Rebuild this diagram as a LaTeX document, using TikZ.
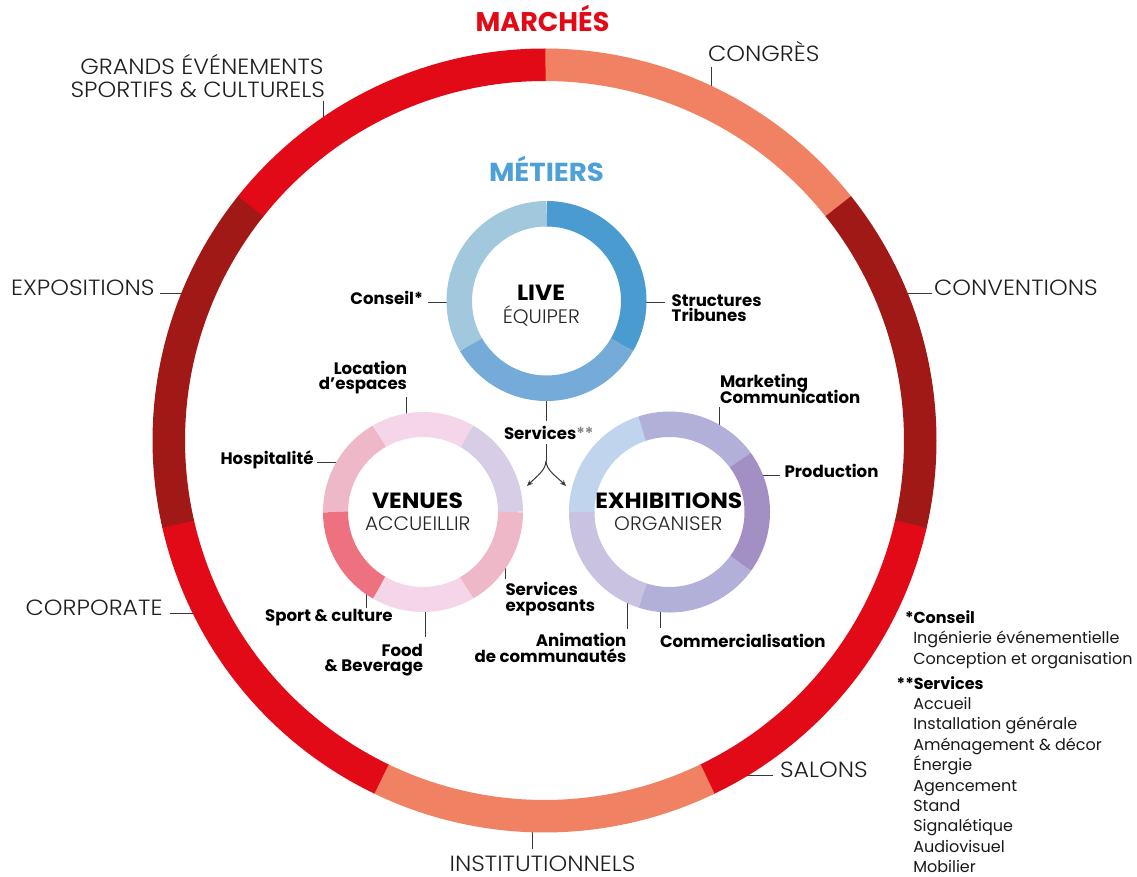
\documentclass[tikz,border=0pt]{standalone}
\usepackage{fontspec}
\setmainfont{Poppins}
\IfFontExistsTF{Poppins Light}{%
  \newfontfamily\lightf{Poppins Light}[FakeStretch=1.08]%
  \newfontfamily\lightg{Poppins Light}[FakeStretch=1.03]%
  \newfontfamily\lighth{Poppins Light}}{%
  \newfontfamily\lightf{Poppins}[FakeStretch=1.08]%
  \newfontfamily\lightg{Poppins}[FakeStretch=1.03]%
  \newfontfamily\lighth{Poppins}}
\newfontfamily\titlef{Poppins}[FakeStretch=1.065]
\usetikzlibrary{arrows.meta}
\definecolor{mred}{HTML}{E30A17}
\definecolor{msalmon}{HTML}{F08263}
\definecolor{mdark}{HTML}{A01916}
\definecolor{mblue}{HTML}{4DA0D8}
\definecolor{lblueA}{HTML}{4A9BCF}
\definecolor{lblueB}{HTML}{74ABD8}
\definecolor{lblueC}{HTML}{A1C8DD}
\definecolor{vlav}{HTML}{D7CDE7}
\definecolor{vlpink}{HTML}{F5D6E8}
\definecolor{vpink}{HTML}{EEB8C9}
\definecolor{vcoral}{HTML}{EE717F}
\definecolor{elblue}{HTML}{C0D4EE}
\definecolor{epurple}{HTML}{B2B0D8}
\definecolor{eprod}{HTML}{A28FC4}
\definecolor{eanim}{HTML}{CAC2E1}
\newcommand\ringseg[6]{\draw[line width=#3pt,#6] (#1) ++(#4:#2pt) arc[start angle=#4,end angle=#5,radius=#2pt];}
\begin{document}
\begin{tikzpicture}[x=1pt,y=-1pt,
  every node/.style={inner sep=0pt,outer sep=0pt},
  biglab/.style={font=\lightf\fontsize{22}{26}\selectfont,text=black!88},
  head/.style={font=\titlef\bfseries\fontsize{22}{26}\selectfont,text=black},
  subh/.style={font=\lightg\fontsize{19.5}{22}\selectfont,text=black!85},
  lab/.style={font=\bfseries\fontsize{16.6}{18}\selectfont,text=black},
  note/.style={font=\fontsize{16}{20}\selectfont,text=black!90},
  notehead/.style={font=\bfseries\fontsize{16}{20}\selectfont,text=black},
  lead/.style={draw=black!78,line width=1pt},
  tip/.style={-{Stealth[length=6pt,width=5pt]}}]
\fill[white] (0,0) rectangle (1137,877);
\useasboundingbox (0,0) rectangle (1137,877);
% centres
\coordinate (big) at (544.5,440.5);
\coordinate (livec) at (546.5,301);
\coordinate (venc) at (423,512);
\coordinate (exhc) at (669.5,512);
% leaders (drawn under the rings)
\coordinate (gA) at (323,101); \coordinate (gB) at (323,122);
\coordinate (cgA) at (711,67); \coordinate (cgB) at (711,90);
\coordinate (cvA) at (932,293); \coordinate (cvB) at (903,293);
\coordinate (saA) at (773,775); \coordinate (saB) at (742,775);
\coordinate (inA) at (532,849); \coordinate (inB) at (532,826);
\coordinate (coA) at (170,613); \coordinate (coB) at (197,613);
\coordinate (exA) at (160,293); \coordinate (exB) at (186,293);
\foreach \p/\q in {gA/gB,cgA/cgB,cvA/cvB,saA/saB,inA/inB,coA/coB,exA/exB} \draw[lead] (\p) -- (\q);
\coordinate (csA) at (428,302.7); \coordinate (csB) at (450,302.7);
\coordinate (stA) at (643,302.7); \coordinate (stB) at (665,302.7);
\coordinate (svA) at (546,396); \coordinate (svB) at (546,421);
\coordinate (loA) at (406.5,397); \coordinate (loB) at (406.5,417);
\coordinate (hoA) at (317,462.7); \coordinate (hoB) at (340,462.7);
\coordinate (spA) at (366.5,590); \coordinate (spB) at (366.5,608);
\coordinate (foA) at (425.5,608); \coordinate (foB) at (425.5,637);
\coordinate (seA) at (505.5,564); \coordinate (seB) at (505.5,579);
\coordinate (maA) at (719,407); \coordinate (maB) at (719,429);
\coordinate (prA) at (758,475.7); \coordinate (prB) at (780,475.7);
\coordinate (cmA) at (660,607); \coordinate (cmB) at (660,628);
\coordinate (anA) at (627,598); \coordinate (anB) at (627,629);
\foreach \p/\q in {csA/csB,stA/stB,svA/svB,loA/loB,hoA/hoB,spA/spB,foA/foB,seA/seB,maA/maB,prA/prB,cmA/cmB,anA/anB} \draw[lead] (\p) -- (\q);
% big ring
\foreach \i/\c in {0/msalmon,1/mdark,2/mred,3/msalmon,4/mred,5/mdark,6/mred}{
  \pgfmathsetmacro\sa{90-\i*360/7}
  \pgfmathsetmacro\ea{90-(\i+1)*360/7-0.15}
  \ringseg{big}{375.75}{32.5}{\sa}{\ea}{\c}
}
% LIVE
\ringseg{livec}{87.25}{25.5}{90}{-30.2}{lblueA}
\ringseg{livec}{87.25}{25.5}{-30}{-150.2}{lblueB}
\ringseg{livec}{87.25}{25.5}{-150}{-270}{lblueC}
% VENUES
\ringseg{venc}{87.5}{25}{0}{60.2}{vlav}
\ringseg{venc}{87.5}{25}{60}{120.2}{vlpink}
\ringseg{venc}{87.5}{25}{120}{180.2}{vpink}
\ringseg{venc}{87.5}{25}{180}{240.2}{vcoral}
\ringseg{venc}{87.5}{25}{240}{300.2}{vlpink}
\ringseg{venc}{87.5}{25}{300}{360}{vpink}
% EXHIBITIONS
\ringseg{exhc}{87.75}{25.5}{108}{180.2}{elblue}
\ringseg{exhc}{87.75}{25.5}{36}{108.2}{epurple}
\ringseg{exhc}{87.75}{25.5}{-36}{36.2}{eprod}
\ringseg{exhc}{87.75}{25.5}{-108}{-35.8}{epurple}
\ringseg{exhc}{87.75}{25.5}{180}{252.2}{eanim}
% fork
\coordinate (fk0) at (546,444); \coordinate (fk) at (546,461);
\coordinate (tipL) at (527,486); \coordinate (tipR) at (566,486);
\draw[lead] (fk0) -- (fk);
\draw[lead,tip] (fk) .. controls +(0,9) and +(9,-9) .. (tipL);
\draw[lead,tip] (fk) .. controls +(0,9) and +(-9,-9) .. (tipR);
% titles
\node[font=\bfseries\fontsize{27}{30}\selectfont,text=mred,anchor=base] (marches) at (542.5,32) {MARCHÉS};
\node[font=\titlef\bfseries\fontsize{26}{30}\selectfont,text=mblue,anchor=base] (metiers) at (546.5,182) {MÉTIERS};
% market labels
\node[biglab,anchor=base east] (grands1) at (323.5,75) {GRANDS ÉVÉNEMENTS};
\node[biglab,anchor=base east] (grands2) at (325,98) {SPORTIFS \& CULTURELS};
\node[biglab,anchor=base west] (congres) at (708,62) {CONGRÈS};
\node[biglab,anchor=base west] (conv) at (934,295) {CONVENTIONS};
\node[biglab,anchor=base west] (salons) at (780,777) {SALONS};
\node[biglab,anchor=base] (instit) at (542.5,871) {INSTITUTIONNELS};
\node[biglab,anchor=base east] (corpo) at (162.5,615) {CORPORATE};
\node[biglab,anchor=base east] (expo) at (154.5,295) {EXPOSITIONS};
% centres of the donuts
\node[head,anchor=base] (live) at (541,300.5) {LIVE};
\node[subh,anchor=base] (equiper) at (541.3,323) {ÉQUIPER};
\node[head,anchor=base] (venues) at (417.5,508) {VENUES};
\node[subh,anchor=base] (accueillir) at (417.8,530.5) {ACCUEILLIR};
\node[head,anchor=base] (exhib) at (668.8,508) {EXHIBITIONS};
\node[subh,anchor=base] (organiser) at (668.3,530.5) {ORGANISER};
% metier labels
\node[lab,anchor=base east] (conseil) at (423,304) {Conseil*};
\node[lab,anchor=base west] (struct1) at (671.7,306) {Structures};
\node[lab,anchor=base west] (struct2) at (671.7,321.5) {Tribunes};
\node[lab,anchor=base west] (services) at (504,439.5) {Services{\lighth\color{black!50}**}};
\node[lab,anchor=base east] (loc1) at (407,374) {Location};
\node[lab,anchor=base east] (loc2) at (407,389.5) {d’espaces};
\node[lab,anchor=base east] (hosp) at (313.5,464.5) {Hospitalité};
\node[lab,anchor=base east] (sport) at (392.7,621.5) {Sport \& culture};
\node[lab,anchor=base east] (food1) at (423,656) {Food};
\node[lab,anchor=base east] (food2) at (423,671.5) {\& Beverage};
\node[lab,anchor=base west] (svex1) at (505.5,595.5) {Services};
\node[lab,anchor=base west] (svex2) at (505.5,611) {exposants};
\node[lab,anchor=base west] (mark1) at (720,387.5) {Marketing};
\node[lab,anchor=base west] (mark2) at (720,403) {Communication};
\node[lab,anchor=base west] (prod) at (784.5,477.5) {Production};
\node[lab,anchor=base west] (comm) at (660,647.5) {Commercialisation};
\node[lab,anchor=base east] (anim1) at (626.4,646.5) {Animation};
\node[lab,anchor=base east] (anim2) at (626.4,662) {de communautés};
% footnotes
\node[notehead,anchor=base west] (fnc) at (905,623) {*Conseil};
\node[note,anchor=base west] (fn1) at (913.3,643.5) {Ingénierie événementielle};
\node[note,anchor=base west] (fn2) at (913.3,664) {Conception et organisation};
\node[notehead,anchor=base west] (fns) at (896.7,689) {**Services};
\foreach \t [count=\i from 0] in {Accueil,Installation générale,Aménagement \& décor,Énergie,Agencement,Stand,Signalétique,Audiovisuel,Mobilier}
  \node[note,anchor=base west] (fi\i) at (913.3,709.5+\i*20.4) {\t};
\end{tikzpicture}
\end{document}
